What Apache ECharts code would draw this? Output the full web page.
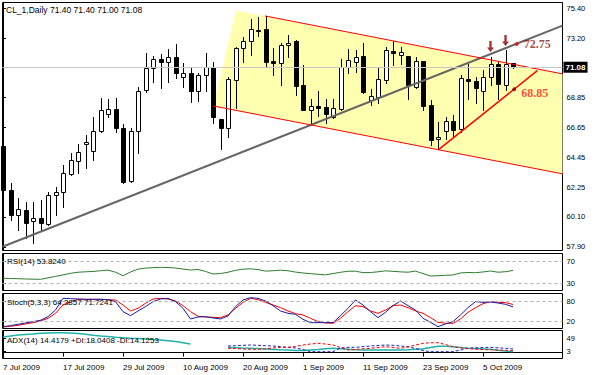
<!DOCTYPE html>
<html><head><meta charset="utf-8">
<script src="https://cdn.jsdelivr.net/npm/echarts@6/dist/echarts.min.js"></script>
<style>html,body{margin:0;padding:0;background:#fff}#c{width:600px;height:375px}</style>
</head><body><div id="c"></div><script>
// ---- data ----
const symbolName = 'CL_1,Daily';
const tickIdx = [0, 8, 16, 24, 32, 40, 48, 56, 64];
const tickLabels = ['7 Jul 2009','17 Jul 2009','29 Jul 2009','10 Aug 2009','20 Aug 2009','1 Sep 2009','11 Sep 2009','23 Sep 2009','5 Oct 2009'];
const priceTicks = [75.40, 73.20, 68.85, 66.65, 64.45, 62.25, 60.10, 57.90];
const opens = [65.30,62.08,60.25,60.62,59.81,60.03,59.59,61.71,61.93,63.25,
 64.20,65.45,64.94,66.40,67.65,68.02,66.62,62.73,66.40,69.41,
 71.02,71.68,71.46,71.83,70.36,70.66,69.34,70.51,71.10,67.28,
 66.62,70.14,72.49,73.00,73.78,73.88,71.54,71.39,72.71,73.00,
 69.78,67.94,68.24,68.16,67.43,68.02,71.10,71.46,71.90,68.68,
 68.90,70.14,72.27,71.98,71.90,69.63,71.54,68.31,65.82,66.40,
 67.14,66.55,70.22,70.07,69.34,70.36,71.32,69.78,71.40];
const highs = [65.52,62.59,61.49,61.20,61.20,61.35,61.93,62.30,63.91,64.79,
 65.45,66.11,67.43,68.82,68.75,68.82,66.92,66.62,69.63,72.12,
 71.90,72.05,72.42,72.78,71.39,71.10,70.66,72.12,71.46,67.28,
 70.36,72.56,73.30,74.62,74.76,74.84,72.49,72.86,73.44,73.08,
 71.24,68.75,69.34,68.75,68.75,71.68,72.42,72.34,72.86,69.48,
 71.10,72.56,73.00,72.56,71.90,71.83,71.54,68.68,67.06,67.43,
 67.58,70.51,71.32,70.36,70.88,71.83,71.46,72.34,71.40];
const lows = [61.86,59.88,59.15,58.56,58.19,59.15,59.52,60.25,60.83,63.18,
 63.32,63.69,64.28,66.33,67.43,66.33,62.59,62.66,64.79,69.26,
 70.00,69.56,70.00,70.29,69.63,68.53,68.60,69.34,66.99,65.08,
 65.96,68.09,71.46,71.98,73.37,71.17,70.51,69.78,71.83,69.04,
 67.94,66.99,67.50,66.99,67.36,67.94,70.66,70.73,69.19,68.31,
 68.46,69.92,71.24,71.32,68.75,69.56,67.94,65.38,65.08,65.82,
 65.96,66.33,68.75,68.46,67.94,69.78,68.75,69.41,71.00];
const closes = [62.08,60.25,60.69,59.66,60.03,59.66,61.71,61.93,63.32,64.28,
 64.87,65.60,66.40,67.94,68.02,66.62,62.66,66.40,69.34,71.02,
 71.68,71.46,71.83,70.66,70.66,69.34,70.51,71.10,67.43,66.62,
 70.22,72.49,73.00,73.88,73.70,71.46,71.39,72.71,72.86,69.70,
 67.94,68.24,68.09,67.65,68.09,71.10,71.61,71.83,69.26,68.97,
 70.22,72.34,72.12,72.20,69.78,71.54,68.24,65.74,65.96,67.14,
 66.48,70.29,70.07,69.56,70.36,71.32,69.85,71.32,71.08];
const rsi = [39.3,38.9,38.5,38.0,37.6,37.4,40.0,42.8,45.6,48.5,
 50.5,51.3,52.0,53.2,54.4,50.5,44.1,51.0,56.2,58.1,
 59.0,59.6,59.2,58.2,56.4,54.6,55.6,52.0,47.2,48.0,
 50.5,54.0,56.2,56.8,55.5,52.5,53.3,54.3,53.2,50.8,
 49.1,47.9,46.7,45.6,48.0,50.4,52.3,52.4,49.8,50.0,
 51.3,53.1,52.2,51.2,50.5,52.6,48.0,43.5,44.0,44.8,
 45.4,49.2,50.0,49.6,51.0,52.8,50.5,51.5,53.8];
const stochMain = [5,8,12,16,20,24,35,55,90,89,
 88,87,87,87,86,80,50,38,52,65,
 80,88,90,80,60,28,34,35,31,28,
 37,65,85,92,90,82,68,52,45,42,
 27,17,17,17,17,38,60,85,70,50,
 32,48,68,82,68,55,30,18,5,13,
 20,40,62,80,78,79,76,72,64.4];
const stochSignal = [4,6,9,13,17,22,30,45,70,80,
 87,87,87,87,86,85,70,52,60,75,
 88,90,88,82,68,50,36,34,33,32,
 40,60,78,90,86,78,70,62,52,44,
 40,30,20,16,15,30,50,68,65,52,
 45,55,68,70,62,52,45,32,18,15,
 15,28,48,62,74,80,78,77,71.7];
const adx = [53.5,57,60,62,63.8,66,67,68,68.2,67,
 65.5,62.7,59.6,56.9,54.8,52.8,51,49.3,48,46.3,
 44.5,42.8,40.8,38,33.9,29.4,null,null,null,null,
 18.1,17,15.7,14.7,13.7,12.3,10.9,9.5,8.5,7.1,
 7.1,8.8,10.5,12.9,14.7,12.9,11.2,9.5,8.8,8.8,
 8.8,8.8,8.8,8.8,9.8,11.2,13.2,17.4,21.9,21.6,
 20.2,17.4,14.7,13.7,12.7,11.2,7.8,5.4,3.0];
const plusDI = [null,null,null,null,null,null,null,null,null,null,
 null,null,null,null,null,null,null,null,null,null,
 null,null,null,null,null,null,null,null,null,null,
 22.6,23.6,25,26,25,23.6,22.6,20.2,18.1,15.7,
 10.5,3,3,3,3,15.7,18.1,18.1,20.2,22.6,
 24.3,26,25,22.6,20.2,14,7.1,3,3,3,
 3,8.8,14.7,16.4,17.4,18.1,16.4,14.7,12.3];
const minusDI = [null,null,null,null,null,null,null,null,null,null,
 null,null,null,null,null,null,null,null,null,null,
 null,null,null,null,null,null,null,null,null,null,
 14.7,13.7,12.3,11.2,11.2,13.2,15.7,18.1,18.1,20.9,
 26,29.4,31.8,29.4,26,17.4,8.8,10.5,12.9,14.7,
 17.4,20.2,17.4,14.7,19.2,26,31.8,33.9,33.9,27.7,
 20.2,16.4,14,11.6,10.2,9.5,8.8,7.8,6.4];
const rsiLevels = [70, 30];
const stochLevels = [80, 20];
const adxLabels = [49, 3];
const rsiText = 'RSI(14) 53.8240';
const stochText = 'Stoch(5,3,3) 64.3857 71.7241';
const adxText = 'ADX(14) 14.4179 +DI:18.0408 -DI:14.1253';
// drawn objects (bar index, price)
const channelFill = [[31.07, 75.24], [74.6, 70.59], [74.6, 63.26], [28.04, 68.24]];
const channelUpper = [[34.93, 74.84], [74.6, 70.59]];
const channelLower = [[28.04, 68.24], [74.6, 63.26]];
const supportLine = [[58.04, 65.02], [71.24, 70.83]];
const longTrend = [[-0.07, 57.92], [74.6, 74.13]];
const markRed = [[68.49, 72.78, '72.75']];
const markDark = [[68.17, 69.46, '68.85']];
const arrowPts = [[65, 72.20], [67, 72.64]];

// ---- chart ----
const xMin = -0.07, xMax = 74.6;
const candles = opens.map((o, i) => [i, o, highs[i], lows[i], closes[i]]);
const lastClose = closes[closes.length - 1];
const n = opens.length - 1;
const titleText = symbolName + ' ' + [opens[n], highs[n], lows[n], closes[n]].map(v => v.toFixed(2)).join(' ');
const toXY = arr => arr.map((v, i) => [i, v == null ? '-' : v]);
const FONT = 'Liberation Sans';

function candleItem(params, api) {
  const i = api.value(0), o = api.value(1), h = api.value(2), l = api.value(3), c = api.value(4);
  const pO = api.coord([i, o]), pH = api.coord([i, h]), pL = api.coord([i, l]), pC = api.coord([i, c]);
  const cx = Math.round(pO[0]);
  const top = Math.round(Math.min(pO[1], pC[1])), bot = Math.round(Math.max(pO[1], pC[1]));
  return {type: 'group', children: [
    {type: 'line', shape: {x1: cx + 0.5, y1: Math.round(pH[1]), x2: cx + 0.5, y2: Math.round(pL[1]) + 1}, style: {stroke: '#000', lineWidth: 1}},
    {type: 'rect', shape: {x: cx - 1.5, y: top + 0.5, width: 4, height: Math.max(0, bot - top)}, style: {fill: c >= o ? '#fff' : '#000', stroke: '#000', lineWidth: 1}}
  ]};
}
function fillItem(params, api) {
  const pts = channelFill.map(p => api.coord(p));
  return {type: 'polygon', shape: {points: pts}, style: {fill: '#ffffb0', stroke: null}};
}
const grids = [
  {left: 2.5, right: 37.5, top: 2.5, height: 248},
  {left: 2.5, right: 37.5, top: 253.5, height: 37},
  {left: 2.5, right: 37.5, top: 293.5, height: 35},
  {left: 2.5, right: 37.5, top: 330.5, height: 28}
].map(g => Object.assign(g, {show: true, borderColor: '#000', borderWidth: 1, backgroundColor: '#fff'}));
const xAxes = [0, 1, 2, 3].map(k => ({
  type: 'value', gridIndex: k, min: xMin, max: xMax, show: k === 3,
  splitLine: {show: false},
  axisLine: {show: true, lineStyle: {color: '#000'}},
  axisTick: {show: true, customValues: tickIdx, length: 4, lineStyle: {color: '#000'}},
  axisLabel: {show: true, customValues: tickIdx, align: 'left', margin: 5, fontSize: 8, fontFamily: FONT, color: '#000',
    formatter: v => tickLabels[tickIdx.indexOf(Math.round(v))] || ''}
}));
function yAx(k, min, max, vals, fmt) {
  return {type: 'value', gridIndex: k, position: 'right', min: min, max: max, scale: true,
    splitLine: {show: false},
    axisLine: {show: true, lineStyle: {color: '#000'}},
    axisTick: {show: true, customValues: vals, length: 3, lineStyle: {color: '#000'}},
    axisLabel: {show: true, customValues: vals, margin: 4, fontSize: 7.5, fontFamily: FONT, color: '#000', formatter: fmt}};
}
const yAxes = [
  yAx(0, 57.643, 75.825, priceTicks, v => v.toFixed(2)),
  yAx(1, 16.67, 85.19, rsiLevels, v => String(Math.round(v))),
  yAx(2, -0.6, 104.5, stochLevels, v => String(Math.round(v))),
  yAx(3, -20.3, 75.8, adxLabels, v => String(Math.round(v)))
];
function levelLines(vals) {
  return {silent: true, symbol: 'none', label: {show: false},
    lineStyle: {color: '#b0b0b0', type: [3, 3], width: 1}, data: vals.map(v => ({yAxis: v}))};
}
const option = {
  animation: false,
  backgroundColor: '#fff',
  grid: grids, xAxis: xAxes, yAxis: yAxes,
  series: [
    {type: 'custom', xAxisIndex: 0, yAxisIndex: 0, renderItem: fillItem, data: [[0]], z: 0, silent: true,
      markLine: {silent: true, symbol: 'none', lineStyle: {color: '#c8c8c8', type: 'solid', width: 1},
        label: {position: 'end', distance: 1, formatter: lastClose.toFixed(2), backgroundColor: '#000', color: '#fff',
          fontWeight: 'bold', fontSize: 8, fontFamily: FONT, padding: [2, 2, 1, 2]},
        data: [{yAxis: lastClose}]}},
    {type: 'custom', xAxisIndex: 0, yAxisIndex: 0, renderItem: candleItem, data: candles, encode: {x: 0, y: [1, 2, 3, 4]}, z: 2, silent: true},
    {type: 'line', xAxisIndex: 0, yAxisIndex: 0, data: longTrend, showSymbol: false, z: 3, lineStyle: {color: '#666', width: 2}},
    {type: 'line', xAxisIndex: 0, yAxisIndex: 0, data: channelUpper, showSymbol: false, z: 3, lineStyle: {color: '#ff0000', width: 1}},
    {type: 'line', xAxisIndex: 0, yAxisIndex: 0, data: channelLower, showSymbol: false, z: 3, lineStyle: {color: '#ff0000', width: 1}},
    {type: 'line', xAxisIndex: 0, yAxisIndex: 0, data: supportLine, showSymbol: false, z: 3, lineStyle: {color: '#ff0000', width: 1.5}},
    {type: 'scatter', xAxisIndex: 0, yAxisIndex: 0, data: markRed, symbolSize: 4, z: 4, itemStyle: {color: '#ff0000'},
      label: {show: true, position: 'right', distance: 5, formatter: p => p.data[2], color: '#8b1a1a', fontSize: 12, fontWeight: 'bold', fontFamily: 'Liberation Serif'}},
    {type: 'scatter', xAxisIndex: 0, yAxisIndex: 0, data: markDark, symbolSize: 4, z: 4, itemStyle: {color: '#800000'},
      label: {show: true, position: 'right', distance: 5, offset: [0, 4], formatter: p => p.data[2], color: '#ff1a1a', fontSize: 12, fontWeight: 'bold', fontFamily: 'Liberation Serif'}},
    {type: 'scatter', xAxisIndex: 0, yAxisIndex: 0, data: arrowPts, z: 4,
      symbol: 'path://M2,0 L4,0 L4,6 L6,6 L3,10 L0,6 L2,6 Z', symbolSize: [7, 11], symbolOffset: [0, '-50%'], itemStyle: {color: '#8b0000'}},
    {type: 'line', xAxisIndex: 1, yAxisIndex: 1, data: toXY(rsi), showSymbol: false, z: 3, lineStyle: {color: '#2e7d2e', width: 1},
      markLine: levelLines(rsiLevels)},
    {type: 'line', xAxisIndex: 2, yAxisIndex: 2, data: toXY(stochSignal), showSymbol: false, z: 3, lineStyle: {color: '#ff0000', width: 1},
      markLine: levelLines(stochLevels)},
    {type: 'line', xAxisIndex: 2, yAxisIndex: 2, data: toXY(stochMain), showSymbol: false, z: 3, lineStyle: {color: '#1a1aa8', width: 1}},
    {type: 'line', xAxisIndex: 3, yAxisIndex: 3, data: toXY(adx), showSymbol: false, connectNulls: false, z: 3, lineStyle: {color: '#20b2aa', width: 1.5}},
    {type: 'line', xAxisIndex: 3, yAxisIndex: 3, data: toXY(plusDI), showSymbol: false, connectNulls: false, z: 3, lineStyle: {color: '#2020c0', width: 1, type: [3, 2]}},
    {type: 'line', xAxisIndex: 3, yAxisIndex: 3, data: toXY(minusDI), showSymbol: false, connectNulls: false, z: 3, lineStyle: {color: '#ff0000', width: 1, type: [3, 2]}}
  ],
  graphic: [
    {type: 'text', left: 6, top: 5, z: 10, style: {text: titleText, fill: '#000', font: '8.5px "Liberation Sans"'}},
    {type: 'text', left: 7, top: 257, z: 10, style: {text: rsiText, fill: '#000', font: '8px "Liberation Sans"'}},
    {type: 'text', left: 7, top: 298, z: 10, style: {text: stochText, fill: '#000', font: '8px "Liberation Sans"'}},
    {type: 'text', left: 7, top: 336, z: 10, style: {text: adxText, fill: '#000', font: '8px "Liberation Sans"'}}
  ]
};
const chart = echarts.init(document.getElementById('c'), null, {renderer: 'svg'});
chart.setOption(option);
</script></body></html>
